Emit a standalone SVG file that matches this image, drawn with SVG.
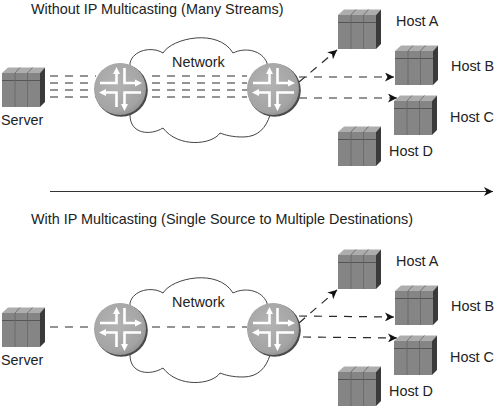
<svg xmlns="http://www.w3.org/2000/svg" width="500" height="409" viewBox="0 0 500 409">
<style>
text{font-family:"Liberation Sans",Arial,sans-serif;font-size:14.4px;fill:#222}
.cloud{fill:#fff;stroke:#444;stroke-width:1}
.dash{fill:none;stroke:#2a2a2a;stroke-width:1.2;stroke-dasharray:8 7}
.arr{marker-end:url(#head)}
.solid{fill:none;stroke:#333;stroke-width:1.2;marker-end:url(#head)}
.w{fill:none;stroke:#fff;stroke-width:2.6}
</style>
<defs>
<marker id="head" markerUnits="userSpaceOnUse" markerWidth="10" markerHeight="9" refX="9" refY="4.5" orient="auto"><path d="M0 0L9 4.5L0 9L2.5 4.500Z" fill="#111"/></marker>
<radialGradient id="rg" cx="0.42" cy="0.4" r="0.65"><stop offset="0" stop-color="#b4b4b4"/><stop offset="0.8" stop-color="#a4a4a4"/><stop offset="1" stop-color="#909090"/></radialGradient>
<path id="cl" d="M130 63C133 50 152 46 163 53C172 38 218 28 233 53C245 47 262 50 267 63L270 115C266 128 258 137 243 137C232 137 225 135 220 133C212 145 178 148 163 128C150 136 130 134 130 115Z"/>
<g id="box">
<path d="M0 0L6 -5.5H43L38 0Z" fill="#adadad"/>
<rect x="0" y="0" width="38" height="34" fill="#858585"/>
<path d="M38 0L43 -5.5V29L38 34Z" fill="#3a3a3a"/>
<path d="M0 7.500H38" stroke="#555" stroke-width="1"/>
<path d="M13 0V34M25.500 0V34M13 0L18 -5.500M25.500 0L30.500 -5.500" stroke="#666" stroke-width="0.8" fill="none"/>
</g>
<g id="rt">
<circle cx="1.300" cy="1.300" r="26.500" fill="#4a4a4a"/>
<circle cx="0" cy="0" r="26" fill="url(#rg)"/>
<path class="w" d="M-20 -6H-3.500V-17M4.500 -21V-6H17M-17 3.500H-3.500V18M21 3.500H4.500V17"/>
<path d="M-3.500 -22L-7 -15H0ZM22 -6L15 -9.500V-2.500ZM-21 3.500L-14 0V7ZM4.500 22L1 15H8Z" fill="#fff"/>
</g>
</defs>

<text x="31" y="14">Without IP Multicasting (Many Streams)</text>
<g id="cloud-top"><use href="#cl" class="cloud"/><text x="172" y="67">Network</text></g>
<g id="connectors-top">
<path class="dash" d="M50 76H96M50 83H96M50 90H96M50 97H96M152 76H247M152 83H247M152 90H247M152 97H247"/>
<path class="dash arr" d="M299 82L337 50"/>
<path class="dash arr" d="M299 77H394"/>
<path class="dash arr" d="M299 98H397"/>
</g>
<g id="server-top"><use href="#box" x="2" y="73"/><text x="1" y="125">Server</text></g>
<g id="router-top-1"><use href="#rt" x="120" y="89"/></g>
<g id="router-top-2"><use href="#rt" x="273" y="89"/></g>
<g id="host-a-top"><use href="#box" x="338" y="15"/><text x="396" y="26">Host A</text></g>
<g id="host-b-top"><use href="#box" x="395" y="51"/><text x="451" y="71">Host B</text></g>
<g id="host-c-top"><use href="#box" x="394" y="101"/><text x="450" y="122">Host C</text></g>
<g id="host-d-top"><use href="#box" x="338" y="132"/><text x="389" y="156">Host D</text></g>

<g id="divider"><path class="solid" d="M50 191.500H493"/></g>

<text x="31" y="224">With IP Multicasting (Single Source to Multiple Destinations)</text>
<g id="cloud-bottom"><use href="#cl" class="cloud" y="240"/><text x="172" y="307">Network</text></g>
<g id="connectors-bottom">
<path class="dash" d="M50 327H96M152 327H247"/>
<path class="dash arr" d="M299 323L337 290"/>
<path class="dash arr" d="M299 316L394 317"/>
<path class="dash arr" d="M303 337L397 338"/>
</g>
<g id="server-bottom"><use href="#box" x="2" y="313"/><text x="1" y="365">Server</text></g>
<g id="router-bottom-1"><use href="#rt" x="120" y="329"/></g>
<g id="router-bottom-2"><use href="#rt" x="273" y="329"/></g>
<g id="host-a-bottom"><use href="#box" x="338" y="255"/><text x="396" y="266">Host A</text></g>
<g id="host-b-bottom"><use href="#box" x="395" y="291"/><text x="451" y="311">Host B</text></g>
<g id="host-c-bottom"><use href="#box" x="394" y="341"/><text x="450" y="362">Host C</text></g>
<g id="host-d-bottom"><use href="#box" x="338" y="372"/><text x="389" y="396">Host D</text></g>
</svg>
